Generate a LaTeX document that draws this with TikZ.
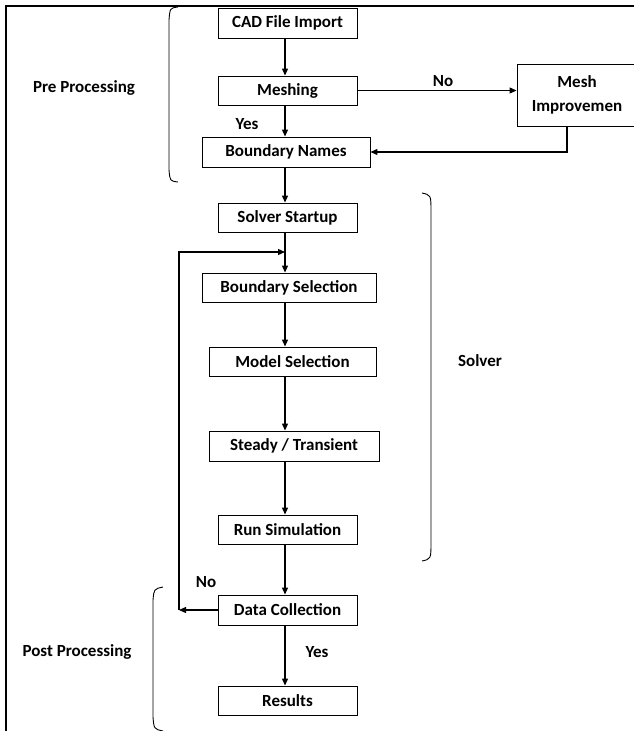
\documentclass[tikz,border=0pt]{standalone}
\usepackage{fontspec}
\setmainfont{Carlito}
\usetikzlibrary{arrows.meta}

\begin{document}
\begin{tikzpicture}[->,>={Triangle[length=7pt,width=6pt]},x=1pt,y=-1pt,line width=1.2pt,
  font=\fontsize{17}{24}\selectfont\bfseries,
  stepbox/.style={draw,line width=0.9pt,inner sep=0pt,minimum width=139pt,minimum height=29pt},
  tag/.style={inner sep=0pt}]
\useasboundingbox (0,0) rectangle (634,731);
\clip (0,0) rectangle (634,731);
\draw[-,line width=2.2pt] (634,6) -- (6,6) -- (6,731);

\node[stepbox,minimum height=30pt] (cad) at (287.5,23) {CAD File Import};
\node[stepbox] (mesh) [node distance=67.5pt, below of = cad] {Meshing};
\node[stepbox,minimum width=168pt,minimum height=30pt] (bnames) [node distance=61.5pt, below of = mesh, xshift=-1.5pt] {Boundary Names};
\node[stepbox] (sstart) [node distance=65.5pt, below of = bnames, xshift=1.5pt] {Solver Startup};
\node[stepbox,minimum width=174pt] (bsel) [node distance=70pt, below of = sstart, xshift=1.5pt] {Boundary Selection};
\node[stepbox,minimum width=167pt] (msel) [node distance=74pt, below of = bsel, xshift=3.5pt] {Model Selection};
\node[stepbox,minimum width=170pt,minimum height=30pt] (steady) [node distance=84.5pt, below of = msel, xshift=1.5pt] {Steady / Transient};
\node[stepbox] (runsim) [node distance=83.5pt, below of = steady, xshift=-6.5pt] {Run Simulation};
\node[stepbox,minimum height=30pt] (dcoll) [node distance=80.5pt, below of = runsim] {Data Collection};
\node[stepbox] (results) [node distance=90.5pt, below of = dcoll] {Results};
\node[stepbox,minimum width=120pt,minimum height=62pt,align=center] (meshimp) at (577,95) {Mesh\\Improvemen};

\node[tag] (no1) at (443,81) {No};
\node[tag] (yes1) at (247,124) {Yes};
\node[tag] (no2) at (206,582) {No};
\node[tag] (yes2) at (317,652) {Yes};
\node[tag] (pre) at (84,88) {Pre Processing};
\node[tag] (solver) at (480,361) {Solver};
\node[tag] (post) at (77,652) {Post Processing};

\coordinate (axis) at (285,0);
\coordinate (join) at (285,252);
\coordinate (loop) at (179,610);

\path (cad.south -| axis) edge (mesh.north -| axis);
\path (mesh.south -| axis) edge (bnames.north -| axis);
\path (bnames.south -| axis) edge (sstart.north -| axis);
\path (sstart.south -| axis) edge (bsel.north -| axis);
\path (bsel.south -| axis) edge (msel.north -| axis);
\path (msel.south -| axis) edge (steady.north -| axis);
\path (steady.south -| axis) edge (runsim.north -| axis);
\path (runsim.south -| axis) edge (dcoll.north -| axis);
\path (dcoll.south -| axis) edge (results.north -| axis);

\draw (mesh.east) -- (mesh.east -| meshimp.west);
\draw ([xshift=-10pt]meshimp.south) |- (bnames.east);
\draw (dcoll.west) -- (loop);
\draw (loop) |- (join);

\draw[-,line width=0.9pt] (178,7) .. controls (170,8) .. (169,20) -- (169,170) .. controls (170,181) .. (178,182);
\draw[-,line width=0.9pt] (422,193) .. controls (431,195) .. (431,212) -- (431,542) .. controls (431,559) .. (422,561);
\draw[-,line width=0.9pt] (163,587) .. controls (154,589) .. (153,600) -- (153,717) .. controls (154,729) .. (163,731);

\end{tikzpicture}
\end{document}
